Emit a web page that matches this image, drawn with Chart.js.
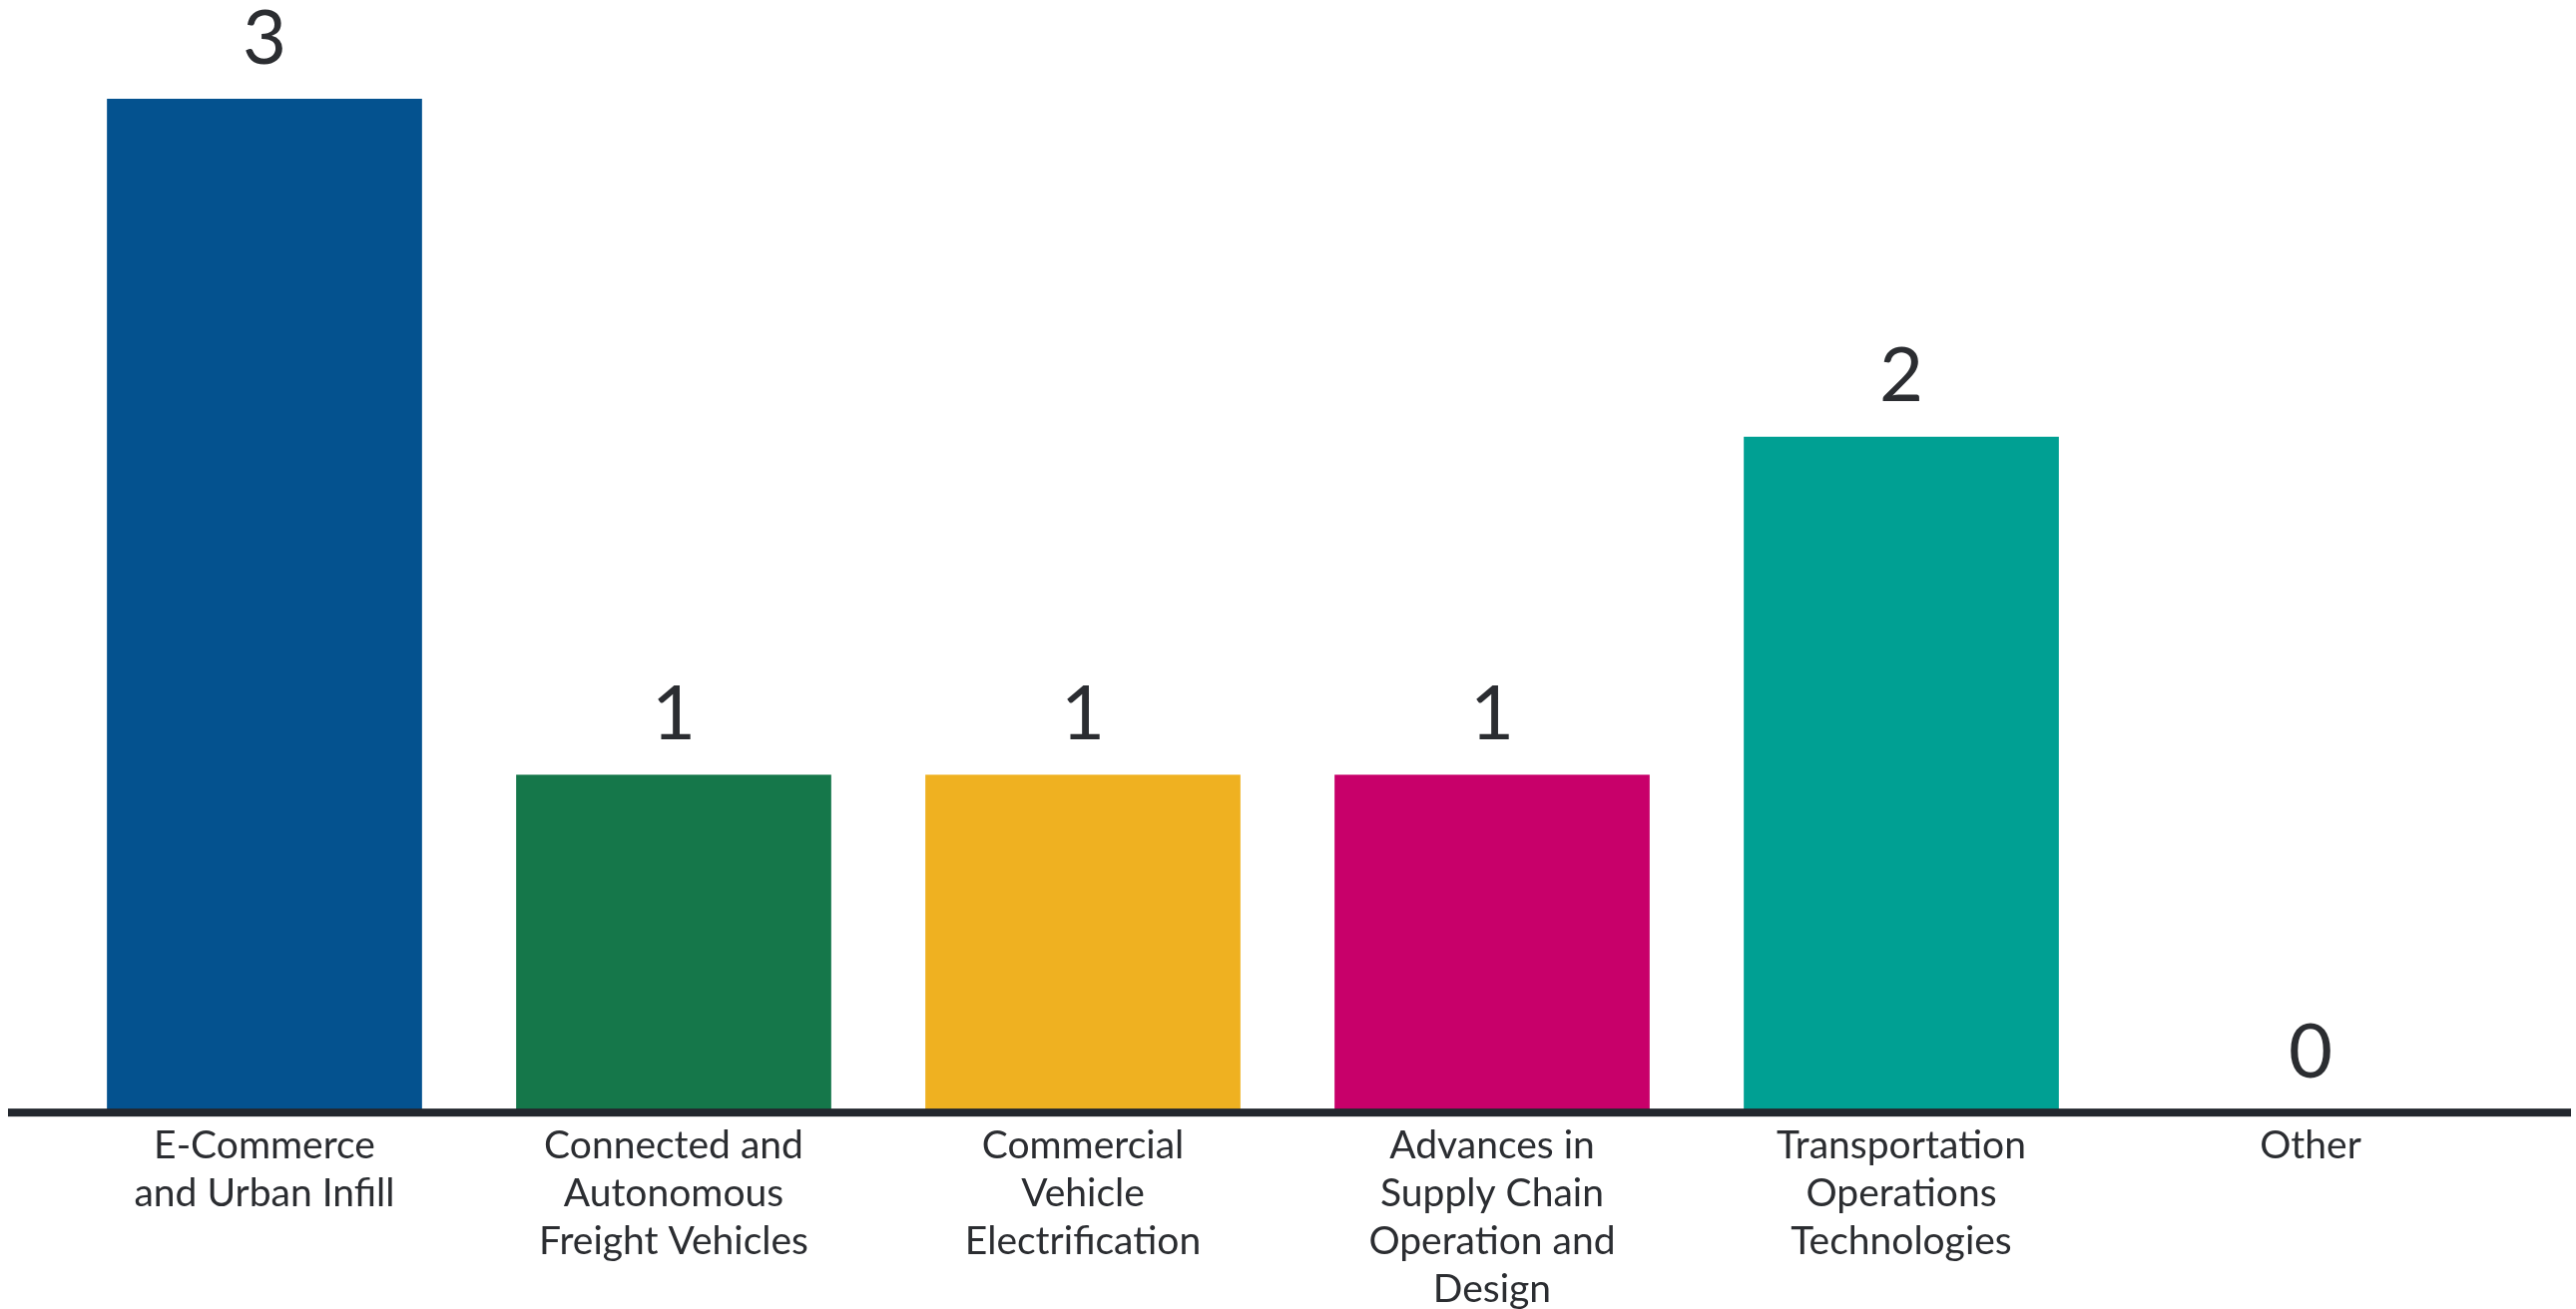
<!doctype html>
<html>
<head>
    <title>Projects by topic</title>
    <script src="https://cdn.jsdelivr.net/npm/chart.js@4"></script>
    <style>
    html, body { margin: 0; padding: 0; background: #fff; }
    #holder { width: 2581px; height: 1312px; }
    </style>
</head>
<body>
    <div id="holder"><canvas id="chart-area"></canvas></div>
    <script>
    // data
    var categories = [
        ['E-Commerce', 'and Urban Infill'],
        ['Connected and', 'Autonomous', 'Freight Vehicles'],
        ['Commercial', 'Vehicle', 'Electrification'],
        ['Advances in', 'Supply Chain', 'Operation and', 'Design'],
        ['Transportation', 'Operations', 'Technologies'],
        ['Other']
    ];
    var counts = [3, 1, 1, 1, 2, 0];
    var barColors = ['#04528f', '#15774a', '#efb121', '#c8006a', '#00a093', '#888888'];

    var textColor = '#2b2d31';
    var fontFamily = 'Lato, "Open Sans", sans-serif';

    // the thick baseline runs almost the full width of the picture
    var baseLine = {
        id: 'baseLine',
        afterDatasetsDraw: function(chart) {
            var ctx = chart.ctx;
            var y = chart.scales.y.getPixelForValue(0);
            ctx.save();
            ctx.fillStyle = '#23272e';
            ctx.fillRect(8, y - 4, chart.width - 13, 8);
            ctx.restore();
        }
    };

    // value above every bar
    var valueLabels = {
        id: 'valueLabels',
        afterDatasetsDraw: function(chart) {
            var ctx = chart.ctx;
            var meta = chart.getDatasetMeta(0);
            ctx.save();
            ctx.fillStyle = textColor;
            ctx.font = '76px ' + fontFamily;
            ctx.textAlign = 'center';
            ctx.textBaseline = 'middle';
            meta.data.forEach(function(bar, i) {
                ctx.fillText(String(counts[i]), bar.x, bar.y - 60);
            });
            ctx.restore();
        }
    };

    var config = {
        type: 'bar',
        data: {
            labels: categories,
            datasets: [{
                data: counts,
                backgroundColor: barColors,
                borderWidth: 0,
                barPercentage: 0.77,
                categoryPercentage: 1
            }]
        },
        options: {
            responsive: true,
            maintainAspectRatio: false,
            animation: false,
            layout: {
                padding: { top: 99, left: 60, right: 61, bottom: -5 }
            },
            plugins: {
                legend: { display: false },
                tooltip: { enabled: false }
            },
            scales: {
                x: {
                    grid: { display: false },
                    border: { display: false },
                    ticks: {
                        autoSkip: false,
                        maxRotation: 0,
                        padding: 1,
                        color: textColor,
                        font: { family: fontFamily, size: 39, lineHeight: 1.23 }
                    }
                },
                y: {
                    display: false,
                    min: 0,
                    max: 3
                }
            }
        },
        plugins: [baseLine, valueLabels]
    };

    window.onload = function() {
        var ctx = document.getElementById('chart-area').getContext('2d');
        window.myBar = new Chart(ctx, config);
    };
    </script>
</body>
</html>
